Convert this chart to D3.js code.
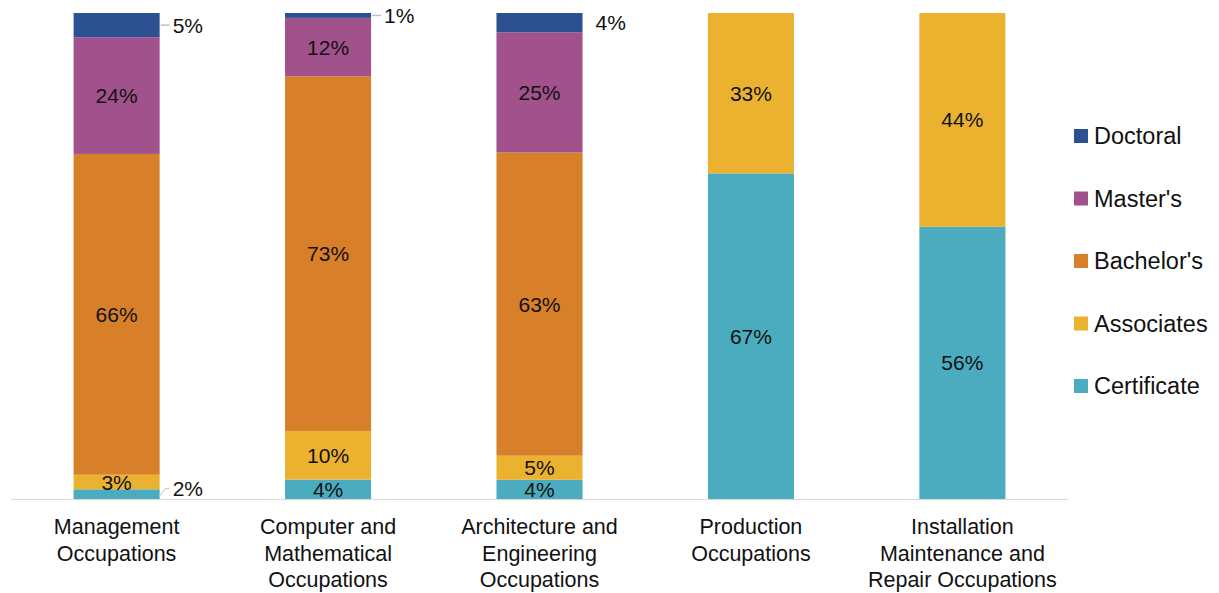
<!DOCTYPE html>
<html>
<head>
<meta charset="utf-8">
<script src="https://cdn.jsdelivr.net/npm/d3@7"></script>
<style>
  html, body { margin: 0; padding: 0; background: #fff; }
  svg { display: block; font-family: "Liberation Sans", Arial, sans-serif; }
</style>
</head>
<body>
<svg id="chart" width="1219" height="593"></svg>
<script>
// Occupation groups and the share of each credential level (percent)
const categories = [
  ["Management", "Occupations"],
  ["Computer and", "Mathematical", "Occupations"],
  ["Architecture and", "Engineering", "Occupations"],
  ["Production", "Occupations"],
  ["Installation", "Maintenance and", "Repair Occupations"]
];
const levels = ["Certificate", "Associates", "Bachelor's", "Master's", "Doctoral"];
const certificate = [2, 4, 4, 67, 56];
const associates  = [3, 10, 5, 33, 44];
const bachelors   = [66, 73, 63, 0, 0];
const masters     = [24, 12, 25, 0, 0];
const doctoral    = [5, 1, 4, 0, 0];
const colors = ["#4bacbf", "#ebb22f", "#d87f2a", "#a1528c", "#2d5190"];
// Labels placed beside the bar rather than inside, and which get a leader line
const outside = { "0-Doctoral": true, "1-Doctoral": true, "2-Doctoral": true, "0-Certificate": true };
const leader = { "0-Doctoral": true, "1-Doctoral": true, "0-Certificate": true };

const series = [certificate, associates, bachelors, masters, doctoral];
const rows = categories.map((c, i) => {
  const r = { idx: i };
  levels.forEach((l, j) => r[l] = series[j][i]);
  return r;
});

const svg = d3.select("#chart");
const plotLeft = 11, plotRight = 1068, plotTop = 13, plotBottom = 499;

const x = d3.scaleBand().domain(d3.range(categories.length)).range([plotLeft, plotRight])
  .paddingInner(0.593).paddingOuter(0.296);
const y = d3.scaleLinear().domain([0, 1]).range([plotBottom, plotTop]);

const stacked = d3.stack().keys(levels).offset(d3.stackOffsetExpand)(rows);

// Baseline
svg.append("line").attr("x1", plotLeft).attr("x2", plotRight)
  .attr("y1", plotBottom + 0.5).attr("y2", plotBottom + 0.5)
  .attr("stroke", "#d9d9d9").attr("stroke-width", 1);

const groups = svg.selectAll("g.layer").data(stacked).join("g").attr("class", "layer")
  .attr("fill", (d, i) => colors[i]);

groups.selectAll("rect").data(d => d.map(p => ({ p, key: d.key }))).join("rect")
  .attr("x", d => x(d.p.data.idx))
  .attr("width", x.bandwidth())
  .attr("y", d => y(d.p[1]))
  .attr("height", d => Math.max(0, y(d.p[0]) - y(d.p[1])));

// Value labels
const labels = svg.append("g").attr("font-size", 21).attr("fill", "#111");
stacked.forEach(layer => {
  layer.forEach(p => {
    const v = p.data[layer.key];
    if (!v) return;
    const id = p.data.idx + "-" + layer.key;
    const cx = x(p.data.idx) + x.bandwidth() / 2;
    const cy = (y(p[0]) + y(p[1])) / 2;
    if (outside[id]) {
      const bx = x(p.data.idx) + x.bandwidth();
      const isCert = layer.key === "Certificate";
      const ty = isCert ? cy - 6 : cy;
      const tx = bx + 13;
      if (leader[id]) {
        if (isCert) {
          labels.append("path").attr("d", `M${bx},${cy + 2} L${bx + 5},${cy - 5} L${bx + 10},${cy - 6}`)
            .attr("fill", "none").attr("stroke", "#bfbfbf").attr("stroke-width", 1);
        } else {
          labels.append("line").attr("x1", bx + 1).attr("x2", bx + 10).attr("y1", cy).attr("y2", cy)
            .attr("stroke", "#bfbfbf").attr("stroke-width", 1.5);
        }
      }
      labels.append("text").attr("x", tx).attr("y", ty).attr("dy", "0.36em").text(v + "%");
    } else {
      labels.append("text").attr("x", cx).attr("y", cy).attr("dy", "0.36em")
        .attr("text-anchor", "middle").text(v + "%");
    }
  });
});

// Category labels
const cat = svg.append("g").attr("font-size", 21.5).attr("fill", "#111").attr("text-anchor", "middle");
categories.forEach((lines, i) => {
  const cx = x(i) + x.bandwidth() / 2;
  const t = cat.append("text").attr("x", cx).attr("y", 534);
  lines.forEach((ln, k) => t.append("tspan").attr("x", cx).attr("dy", k ? 26.5 : 0).text(ln));
});

// Legend
const legendOrder = ["Doctoral", "Master's", "Bachelor's", "Associates", "Certificate"];
const lg = svg.append("g").attr("font-size", 23.5);
legendOrder.forEach((name, k) => {
  const cy = 136 + k * 62.5;
  lg.append("rect").attr("x", 1074).attr("y", cy - 7).attr("width", 14).attr("height", 14)
    .attr("fill", colors[levels.indexOf(name)]);
  lg.append("text").attr("x", 1094).attr("y", cy).attr("dy", "0.36em").attr("fill", "#111").text(name);
});
</script>
</body>
</html>
